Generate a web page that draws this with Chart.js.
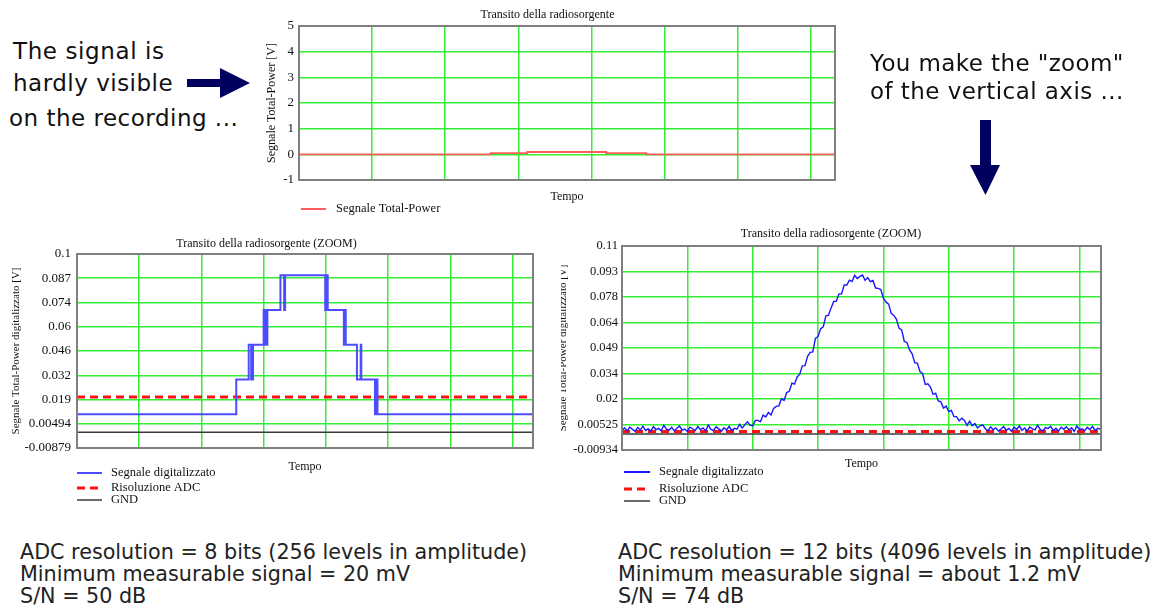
<!DOCTYPE html>
<html>
<head>
<meta charset="utf-8">
<script src="https://cdn.jsdelivr.net/npm/chart.js@4.4.1/dist/chart.umd.min.js"></script>
<style>
  html, body { margin: 0; padding: 0; background: #fff; overflow: hidden; }
  body { width: 1151px; height: 608px; position: relative; }
  canvas { position: absolute; }
  .note { position: absolute; font-family: 'DejaVu Sans', sans-serif; color: #111; white-space: nowrap; line-height: 1; z-index: 2; font-size: 23px; }
  .foot { position: absolute; font-family: 'DejaVu Sans', sans-serif; color: #222; white-space: nowrap; font-size: 20.7px; line-height: 22px; z-index: 2; }
  svg { position: absolute; left: 0; top: 0; z-index: 2; pointer-events: none; }
</style>
</head>
<body>
<canvas id="topChart" width="614" height="222" style="left:260px;top:0px"></canvas>
<canvas id="leftChart" width="610" height="282" style="left:0px;top:230px"></canvas>
<canvas id="rightChart" width="601" height="288" style="left:561px;top:222px"></canvas>

<div class="note" style="letter-spacing:0.6px;left:13px;top:40px">The signal is</div>
<div class="note" style="letter-spacing:0.5px;left:13px;top:72px">hardly visible</div>
<div class="note" style="letter-spacing:0.5px;left:9px;top:107px">on the recording ...</div>
<div class="note" style="letter-spacing:0.4px;left:870px;top:52px">You make the "zoom"</div>
<div class="note" style="letter-spacing:0.45px;left:870px;top:80px">of the vertical axis ...</div>

<div class="foot" style="left:20px;top:541px">ADC resolution = 8 bits (256 levels in amplitude)<br>Minimum measurable signal = 20 mV<br>S/N = 50 dB</div>
<div class="foot" style="left:618px;top:541px">ADC resolution = 12 bits (4096 levels in amplitude)<br>Minimum measurable signal = about 1.2 mV<br>S/N = 74 dB</div>

<svg width="1151" height="608">
  <polygon points="187,79 220,79 220,68 250,83 220,98 220,87 187,87" fill="#00005e"/>
  <polygon points="980,120 991,120 991,165 1000,165 985.5,195 970,165 980,165" fill="#00005e"/>
</svg>

<script>
const SERIF = "'Liberation Serif', 'Times New Roman', serif"
const GRID  = '#33ee33'
const FRAME = '#7f7f7f'

// time axis, in grid units (7 vertical lines inside the box)
const X_MAX  = 7.33
const X_GRID = [0, 1, 2, 3, 4, 5, 6, 7]

// recording, full scale
const topTicks  = [-1, 0, 1, 2, 3, 4, 5]
const topTimes  = [0, 2.62, 3.12, 4.20, 4.75, 7.33]
const topSignal = [0, 0.05, 0.09, 0.05, 0, 0]

// zoom, 8 bit ADC
const leftTickLabels = ['-0.00879', '0.00494', '0.019', '0.032', '0.046', '0.06', '0.074', '0.087', '0.1']
const leftMin = -0.00879
const leftMax = 0.1
const leftTimes  = [0, 2.56, 2.76, 2.80, 2.83, 3.00, 3.02, 3.04, 3.05, 3.06, 3.27, 3.33, 3.345,
                    3.99, 4.00, 4.03, 4.29, 4.30, 4.32, 4.50, 4.56, 4.57, 4.79, 4.80, 4.83, 7.33]
const leftSignal = [0.0101, 0.0296, 0.0491, 0.0296, 0.0491, 0.0686, 0.0491, 0.0686, 0.0491, 0.0686, 0.0881, 0.0686, 0.0881,
                    0.0686, 0.0881, 0.0686, 0.0491, 0.0686, 0.0491, 0.0296, 0.0491, 0.0296, 0.0101, 0.0296, 0.0101, 0.0101]
const leftAdc = 0.0198
const leftGnd = 0

// zoom, 12 bit ADC
const rightTickLabels = ['-0.00934', '0.00525', '0.02', '0.034', '0.049', '0.064', '0.078', '0.093', '0.11']
const rightMin = -0.00934
const rightMax = 0.11
const rightStep = 0.04
const rightSignal = [
  0.0022, 0.0035, 0.0019, 0.0041, 0.0027, 0.0016, 0.0038, 0.0024, 0.0046, 0.0021,
  0.0030, 0.0017, 0.0043, 0.0026, 0.0033, 0.0019, 0.0051, 0.0028, 0.0022, 0.0039,
  0.0018, 0.0034, 0.0047, 0.0023, 0.0029, 0.0015, 0.0040, 0.0031, 0.0020, 0.0044,
  0.0026, 0.0036, 0.0018, 0.0053, 0.0027, 0.0021, 0.0042, 0.0030, 0.0017, 0.0037,
  0.0024, 0.0045, 0.0020, 0.0033, 0.0028,
  0.0057, 0.0035, 0.0055, 0.0072, 0.0052, 0.0048, 0.0080, 0.0080, 0.0073, 0.0111,
  0.0100, 0.0127, 0.0111, 0.0150, 0.0162, 0.0165, 0.0206, 0.0197, 0.0243, 0.0250,
  0.0298, 0.0292, 0.0334, 0.0350, 0.0399, 0.0400, 0.0455, 0.0478, 0.0480, 0.0559,
  0.0571, 0.0616, 0.0627, 0.0691, 0.0695, 0.0738, 0.0776, 0.0777, 0.0820, 0.0820,
  0.0872, 0.0872, 0.0900, 0.0892, 0.0928, 0.0910, 0.0922, 0.0930, 0.0899, 0.0915,
  0.0892, 0.0898, 0.0854, 0.0852, 0.0845, 0.0794, 0.0773, 0.0760, 0.0706, 0.0694,
  0.0671, 0.0618, 0.0609, 0.0542, 0.0536, 0.0492, 0.0469, 0.0418, 0.0414, 0.0366,
  0.0354, 0.0290, 0.0294, 0.0275, 0.0232, 0.0239, 0.0194, 0.0188, 0.0152, 0.0163,
  0.0131, 0.0138, 0.0102, 0.0102, 0.0077, 0.0093, 0.0079, 0.0051, 0.0075, 0.0049,
  0.0061, 0.0035, 0.0048, 0.0054,
  0.0031, 0.0019, 0.0042, 0.0025, 0.0036, 0.0017, 0.0029, 0.0044, 0.0022, 0.0033,
  0.0016, 0.0039, 0.0027, 0.0048, 0.0021, 0.0035, 0.0018, 0.0041, 0.0030, 0.0024,
  0.0052, 0.0026, 0.0019, 0.0038, 0.0032, 0.0045, 0.0020, 0.0034, 0.0017, 0.0040,
  0.0028, 0.0043, 0.0023, 0.0036, 0.0015, 0.0047, 0.0025, 0.0031, 0.0019, 0.0039,
  0.0026, 0.0044, 0.0021, 0.0034, 0.0029
]
const rightAdc = 0.0015
const rightGnd = 0

const pts = (xs, ys) => xs.map((x, i) => ({ x, y: ys[i] }))
const flat = v => [{ x: 0, y: v }, { x: X_MAX, y: v }]

// grey box round the plot + the little legend under it
const framePlugin = {
  id: 'frame',
  afterDraw(chart, args, opts) {
    const { ctx, chartArea: a } = chart
    ctx.save()
    ctx.setLineDash([])
    ctx.strokeStyle = FRAME
    ctx.lineWidth = 2
    ctx.strokeRect(a.left, a.top, a.right - a.left, a.bottom - a.top)

    ctx.font = `12.5px ${SERIF}`
    ctx.fillStyle = '#111'
    ctx.textBaseline = 'middle'
    chart.data.datasets.forEach((ds, i) => {
      const y = a.bottom + opts.rows[i]
      ctx.beginPath()
      ctx.strokeStyle = ds.borderColor
      ctx.lineWidth = ds.legendWidth || ds.borderWidth
      ctx.setLineDash(ds.borderDash || [])
      ctx.moveTo(a.left + opts.line[0], y)
      ctx.lineTo(a.left + opts.line[1], y)
      ctx.stroke()
      ctx.setLineDash([])
      ctx.fillText(ds.label, a.left + opts.text, y)
    })
    ctx.restore()
  }
}

function makeChart(id, o) {
  const step = (o.max - o.min) / (o.labels.length - 1)
  return new Chart(document.getElementById(id), {
    type: 'line',
    data: { datasets: o.datasets },
    options: {
      responsive: false,
      animation: false,
      devicePixelRatio: 1,
      events: [],
      layout: { padding: { left: 0, right: o.yWidth, top: 0, bottom: o.padBottom } },
      elements: { point: { radius: 0 }, line: { tension: 0 } },
      plugins: {
        legend: { display: false },
        tooltip: { enabled: false },
        title: {
          display: true, text: o.title, color: '#111',
          font: { family: SERIF, size: 12, weight: 'normal' },
          padding: o.titlePad,
        },
        frame: o.legend,
      },
      scales: {
        x: {
          type: 'linear', min: 0, max: X_MAX,
          afterBuildTicks: s => { s.ticks = X_GRID.map(v => ({ value: v })) },
          afterFit: s => { s.height = o.xHeight },
          ticks: { display: false },
          grid: { color: GRID, lineWidth: 1.5, drawTicks: false },
          border: { display: false },
          title: {
            display: true, text: 'Tempo', color: '#111',
            font: { family: SERIF, size: 12 },
            padding: { top: 0, bottom: o.xTitlePad },
          },
        },
        y: {
          type: 'linear', min: o.min, max: o.max,
          afterBuildTicks: s => { s.ticks = o.labels.map((l, i) => ({ value: o.min + i * step })) },
          afterFit: s => { s.width = o.yWidth },
          ticks: {
            autoSkip: false, color: '#111', padding: o.tickPad,
            font: { family: SERIF, size: o.tickSize },
            callback: (v, i) => o.labels[i],
          },
          grid: { color: GRID, lineWidth: 1.5, drawTicks: false },
          border: { display: false },
          title: {
            display: true, text: o.yTitle, color: '#111',
            font: { family: SERIF, size: o.yTitleSize },
            padding: { top: o.yTitlePad, bottom: 0 },
          },
        },
      },
    },
    plugins: [framePlugin],
  })
}

makeChart('topChart', {
  title: 'Transito della radiosorgente',
  yTitle: 'Segnale Total-Power [V]',
  labels: topTicks.map(String), min: -1, max: 5,
  yWidth: 39, padBottom: 18, xHeight: 24, xTitlePad: 0,
  titlePad: { top: 7.8, bottom: 3.8 },
  tickPad: 5, tickSize: 13, yTitleSize: 12, yTitlePad: 4.8,
  legend: { rows: [29], line: [2, 27], text: 37 },
  datasets: [
    { label: 'Segnale Total-Power', data: pts(topTimes, topSignal), stepped: true,
      borderColor: '#ff5c5c', borderWidth: 1.8, legendWidth: 2 },
  ],
})

makeChart('leftChart', {
  title: 'Transito della radiosorgente (ZOOM)',
  yTitle: 'Segnale Total-Power digitalizzato [V]',
  labels: leftTickLabels, min: leftMin, max: leftMax,
  yWidth: 77, padBottom: 38, xHeight: 26, xTitlePad: 0,
  titlePad: { top: 6.8, bottom: 2.8 },
  tickPad: 6, tickSize: 13, yTitleSize: 11, yTitlePad: 9.4,
  legend: { rows: [25, 40, 52], line: [0, 25], text: 34 },
  datasets: [
    { label: 'Segnale digitalizzato', data: pts(leftTimes, leftSignal), stepped: true,
      borderColor: '#4d4dff', borderWidth: 2 },
    { label: 'Risoluzione ADC', data: flat(leftAdc),
      borderColor: '#ff1010', borderWidth: 3, borderDash: [8, 5] },
    { label: 'GND', data: flat(leftGnd),
      borderColor: '#3a3a3a', borderWidth: 1.5 },
  ],
})

makeChart('rightChart', {
  title: 'Transito della radiosorgente (ZOOM)',
  yTitle: 'Segnale Total-Power digitalizzato [V]',
  labels: rightTickLabels, min: rightMin, max: rightMax,
  yWidth: 61, padBottom: 38, xHeight: 22, xTitlePad: 0.8,
  titlePad: { top: 5, bottom: 4.6 },
  tickPad: 4, tickSize: 12.5, yTitleSize: 11, yTitlePad: -4,
  legend: { rows: [22, 39, 51], line: [2, 28], text: 37 },
  datasets: [
    { label: 'Segnale digitalizzato', data: rightSignal.map((v, i) => ({ x: i * rightStep, y: v })),
      borderColor: '#1818ff', borderWidth: 1.4, legendWidth: 2 },
    { label: 'Risoluzione ADC', data: flat(rightAdc),
      borderColor: '#ff1010', borderWidth: 3, borderDash: [8, 5] },
    { label: 'GND', data: flat(rightGnd),
      borderColor: '#3a3a3a', borderWidth: 1.5 },
  ],
})
</script>
</body>
</html>
